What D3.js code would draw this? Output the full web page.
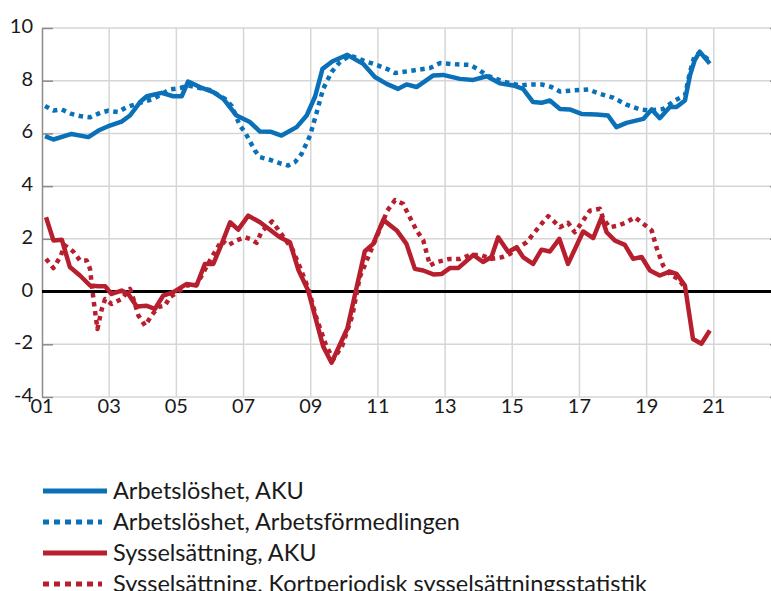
<!DOCTYPE html>
<html>
<head>
<meta charset="utf-8">
<title>Arbetslöshet och sysselsättning</title>
<script src="https://cdn.jsdelivr.net/npm/d3@7"></script>
<style>
  body { margin: 0; background: #fff; }
  text { font-family: Lato, "Open Sans", sans-serif; fill: #1a1a1a; }
</style>
</head>
<body>
<div id="chart"></div>
<script>
// tick values and labels
var xTicks = [2001, 2003, 2005, 2007, 2009, 2011, 2013, 2015, 2017, 2019, 2021, 2023];
var xLabels = ["01", "03", "05", "07", "09", "11", "13", "15", "17", "19", "21", ""];
var yTicks = [-4, -2, 0, 2, 4, 6, 8, 10];

// series, [year, percent]
var arbAku = [
  [2001.09, 5.90], [2001.34, 5.77], [2001.88, 5.98], [2002.38, 5.86], [2002.68, 6.11],
  [2003.02, 6.30], [2003.37, 6.45], [2003.62, 6.68], [2003.92, 7.19], [2004.12, 7.41],
  [2004.56, 7.54], [2004.91, 7.41], [2005.16, 7.41], [2005.35, 7.97], [2005.70, 7.76],
  [2006.10, 7.57], [2006.40, 7.31], [2006.79, 6.68], [2007.19, 6.43], [2007.49, 6.07],
  [2007.82, 6.06], [2008.13, 5.92], [2008.58, 6.24], [2008.88, 6.68], [2009.13, 7.40],
  [2009.35, 8.45], [2009.65, 8.74], [2010.09, 8.98], [2010.56, 8.64], [2010.91, 8.14],
  [2011.26, 7.88], [2011.60, 7.69], [2011.85, 7.86], [2012.15, 7.76], [2012.65, 8.20],
  [2012.94, 8.22], [2013.44, 8.07], [2013.84, 8.03], [2014.24, 8.17], [2014.63, 7.90],
  [2015.03, 7.82], [2015.32, 7.69], [2015.62, 7.19], [2015.87, 7.16], [2016.12, 7.25],
  [2016.42, 6.93], [2016.71, 6.91], [2017.06, 6.74], [2017.51, 6.72], [2017.85, 6.68],
  [2018.10, 6.24], [2018.40, 6.40], [2018.90, 6.55], [2019.15, 6.91], [2019.39, 6.58],
  [2019.69, 7.00], [2019.89, 7.00], [2020.14, 7.25], [2020.29, 8.20], [2020.43, 8.77],
  [2020.58, 9.10], [2020.88, 8.65]
];
var arbAf = [
  [2001.09, 7.04], [2001.34, 6.87], [2001.59, 6.91], [2001.88, 6.74], [2002.13, 6.66],
  [2002.43, 6.61], [2002.73, 6.78], [2002.97, 6.86], [2003.27, 6.81], [2003.52, 7.00],
  [2003.82, 7.12], [2004.31, 7.31], [2004.81, 7.67], [2005.11, 7.72], [2005.35, 7.82],
  [2005.70, 7.72], [2006.00, 7.65], [2006.45, 7.31], [2006.65, 7.04], [2006.89, 6.30],
  [2007.04, 6.05], [2007.34, 5.35], [2007.49, 5.10], [2007.79, 5.00], [2008.08, 4.87],
  [2008.33, 4.78], [2008.53, 4.91], [2008.73, 5.23], [2008.98, 5.92], [2009.18, 6.81],
  [2009.37, 7.69], [2009.62, 8.33], [2009.87, 8.71], [2010.17, 8.96], [2010.56, 8.77],
  [2010.96, 8.60], [2011.26, 8.45], [2011.51, 8.29], [2012.05, 8.39], [2012.55, 8.48],
  [2012.85, 8.67], [2013.34, 8.62], [2013.74, 8.60], [2013.99, 8.43], [2014.24, 8.20],
  [2014.73, 7.97], [2015.23, 7.82], [2015.52, 7.86], [2015.87, 7.86], [2016.17, 7.76],
  [2016.42, 7.59], [2016.81, 7.63], [2017.26, 7.67], [2017.61, 7.50], [2018.00, 7.36],
  [2018.40, 7.09], [2018.80, 6.91], [2019.10, 6.87], [2019.49, 6.93], [2019.84, 7.25],
  [2020.14, 7.44], [2020.29, 8.33], [2020.43, 8.96], [2020.58, 9.05], [2020.88, 8.77]
];
var syssAku = [
  [2001.12, 2.82], [2001.34, 1.94], [2001.59, 1.97], [2001.83, 0.93], [2002.13, 0.61],
  [2002.43, 0.23], [2002.68, 0.20], [2002.88, 0.20], [2003.07, -0.09], [2003.37, 0.04],
  [2003.57, -0.09], [2003.82, -0.57], [2004.12, -0.54], [2004.36, -0.66], [2004.61, -0.15],
  [2004.91, -0.02], [2005.31, 0.29], [2005.60, 0.23], [2005.85, 1.05], [2006.10, 1.05],
  [2006.35, 1.81], [2006.60, 2.63], [2006.84, 2.35], [2007.14, 2.88], [2007.49, 2.63],
  [2008.08, 2.06], [2008.38, 1.87], [2008.63, 0.83], [2008.92, 0.05], [2009.37, -2.08],
  [2009.62, -2.70], [2010.09, -1.40], [2010.61, 1.53], [2010.86, 1.81], [2011.16, 2.72],
  [2011.56, 2.32], [2011.85, 1.81], [2012.10, 0.86], [2012.35, 0.80], [2012.65, 0.65],
  [2012.90, 0.67], [2013.14, 0.89], [2013.39, 0.89], [2013.84, 1.39], [2014.13, 1.12],
  [2014.38, 1.31], [2014.58, 2.06], [2014.88, 1.50], [2015.13, 1.68], [2015.32, 1.31],
  [2015.62, 1.05], [2015.87, 1.59], [2016.12, 1.52], [2016.40, 2.00], [2016.66, 1.05],
  [2017.11, 2.28], [2017.41, 2.03], [2017.66, 2.82], [2017.81, 2.25], [2018.05, 1.94],
  [2018.35, 1.77], [2018.60, 1.24], [2018.85, 1.31], [2019.10, 0.80], [2019.39, 0.61],
  [2019.69, 0.76], [2019.89, 0.67], [2020.14, 0.23], [2020.38, -1.80], [2020.63, -1.98],
  [2020.88, -1.48]
];
var syssKs = [
  [2001.12, 1.24], [2001.34, 0.89], [2001.54, 1.31], [2001.68, 1.75], [2001.93, 1.52],
  [2002.13, 1.18], [2002.33, 1.18], [2002.43, 0.86], [2002.53, -0.28], [2002.65, -1.42],
  [2002.78, -0.66], [2002.88, -0.28], [2003.07, -0.47], [2003.37, -0.28], [2003.62, 0.10],
  [2003.72, -0.28], [2003.87, -0.91], [2004.07, -1.29], [2004.26, -0.91], [2004.46, -0.59],
  [2004.66, -0.53], [2004.81, -0.21], [2005.06, 0.00], [2005.31, 0.23], [2005.60, 0.25],
  [2006.00, 1.18], [2006.20, 1.62], [2006.35, 1.94], [2006.54, 1.75], [2006.79, 1.94],
  [2007.04, 2.06], [2007.19, 2.00], [2007.39, 1.85], [2007.54, 2.28], [2007.85, 2.66],
  [2008.01, 2.39], [2008.46, 1.59], [2008.71, 0.83], [2008.93, 0.10], [2009.18, -1.04],
  [2009.45, -2.02], [2009.67, -2.58], [2009.94, -2.05], [2010.24, -0.91], [2010.46, 0.55],
  [2010.73, 1.37], [2011.01, 2.22], [2011.28, 3.07], [2011.51, 3.47], [2011.75, 3.33],
  [2011.95, 2.82], [2012.15, 2.32], [2012.35, 1.94], [2012.55, 0.99], [2012.75, 1.12],
  [2013.14, 1.24], [2013.44, 1.24], [2013.74, 1.39], [2014.04, 1.39], [2014.38, 1.24],
  [2014.68, 1.30], [2014.93, 1.43], [2015.18, 1.68], [2015.43, 1.87], [2015.63, 2.19],
  [2015.87, 2.57], [2016.07, 2.86], [2016.22, 2.69], [2016.42, 2.44], [2016.66, 2.61],
  [2016.86, 2.25], [2017.11, 2.69], [2017.31, 3.07], [2017.61, 3.14], [2017.71, 2.76],
  [2017.90, 2.44], [2018.15, 2.50], [2018.40, 2.63], [2018.65, 2.82], [2018.90, 2.57],
  [2019.15, 2.32], [2019.29, 1.68], [2019.49, 0.99], [2019.69, 0.67], [2019.94, 0.48],
  [2020.11, 0.20]
];

var seriesNames = [
  "Arbetslöshet, AKU",
  "Arbetslöshet, Arbetsförmedlingen",
  "Sysselsättning, AKU",
  "Sysselsättning, Kortperiodisk sysselsättningsstatistik"
];

var blue = "#0a71b9", red = "#b71f2e";
var series = [
  { data: arbAku, color: blue, dash: null },
  { data: arbAf, color: blue, dash: "4.5,4.5" },
  { data: syssAku, color: red, dash: null },
  { data: syssKs, color: red, dash: "4.5,4.5" }
];

var width = 771, height = 591;
var plotLeft = 42, plotRight = 781, plotTop = 28, plotBottom = 397;

var svg = d3.select("#chart").append("svg")
  .attr("width", width)
  .attr("height", height);

var x = d3.scaleLinear().domain([2001, 2023]).range([plotLeft, plotRight]);
var y = d3.scaleLinear().domain([-4, 10]).range([plotBottom, plotTop]);

// grid
svg.append("g").selectAll("line").data(yTicks).enter().append("line")
  .attr("x1", plotLeft).attr("x2", plotRight)
  .attr("y1", function (d) { return y(d); }).attr("y2", function (d) { return y(d); })
  .attr("stroke", "#d6d6d6").attr("stroke-width", 1.5);

svg.append("g").selectAll("line").data(xTicks.slice(1)).enter().append("line")
  .attr("x1", function (d) { return x(d); }).attr("x2", function (d) { return x(d); })
  .attr("y1", plotTop).attr("y2", plotBottom)
  .attr("stroke", "#d6d6d6").attr("stroke-width", 1.5);

// left and right axes, ticks pointing inward
var yAxis = svg.append("g")
  .attr("transform", "translate(" + plotLeft + ",0)")
  .call(d3.axisRight(y).tickValues(yTicks).tickSize(11).tickSizeOuter(0).tickFormat(""));
yAxis.selectAll("path, line").attr("stroke", "#8c8c8c").attr("stroke-width", 1.5);

var yAxisR = svg.append("g")
  .attr("transform", "translate(" + plotRight + ",0)")
  .call(d3.axisLeft(y).tickValues(yTicks).tickSize(11).tickSizeOuter(0).tickFormat(""));
yAxisR.selectAll("path, line").attr("stroke", "#8c8c8c").attr("stroke-width", 1.5);

svg.append("g").selectAll("text").data(yTicks).enter().append("text")
  .attr("x", 33)
  .attr("y", function (d) { return y(d) + 5; })
  .attr("text-anchor", "end")
  .style("font-size", "20px")
  .text(function (d) { return d; });

svg.append("g").selectAll("text").data(xTicks).enter().append("text")
  .attr("x", function (d) { return x(d); })
  .attr("y", 413)
  .attr("text-anchor", "middle")
  .style("font-size", "20px")
  .text(function (d, i) { return xLabels[i]; });

// zero line
svg.append("line")
  .attr("x1", plotLeft).attr("x2", plotRight)
  .attr("y1", y(0)).attr("y2", y(0))
  .attr("stroke", "#000").attr("stroke-width", 3);

var line = d3.line()
  .x(function (d) { return x(d[0]); })
  .y(function (d) { return y(d[1]); });

series.forEach(function (s) {
  svg.append("path")
    .datum(s.data)
    .attr("d", line)
    .attr("fill", "none")
    .attr("stroke", s.color)
    .attr("stroke-width", 4.5)
    .attr("stroke-linejoin", "round")
    .attr("stroke-dasharray", s.dash);
});

// legend
var legendY = [491, 522, 553, 584];
var legend = svg.append("g");
series.forEach(function (s, i) {
  legend.append("line")
    .attr("x1", 43).attr("x2", s.dash ? 102 : 107)
    .attr("y1", legendY[i]).attr("y2", legendY[i])
    .attr("stroke", s.color)
    .attr("stroke-width", 5)
    .attr("stroke-dasharray", s.dash ? "6,5" : null);
  legend.append("text")
    .attr("x", 113)
    .attr("y", legendY[i] + 8)
    .style("font-size", "23.5px")
    .text(seriesNames[i]);
});
</script>
</body>
</html>
